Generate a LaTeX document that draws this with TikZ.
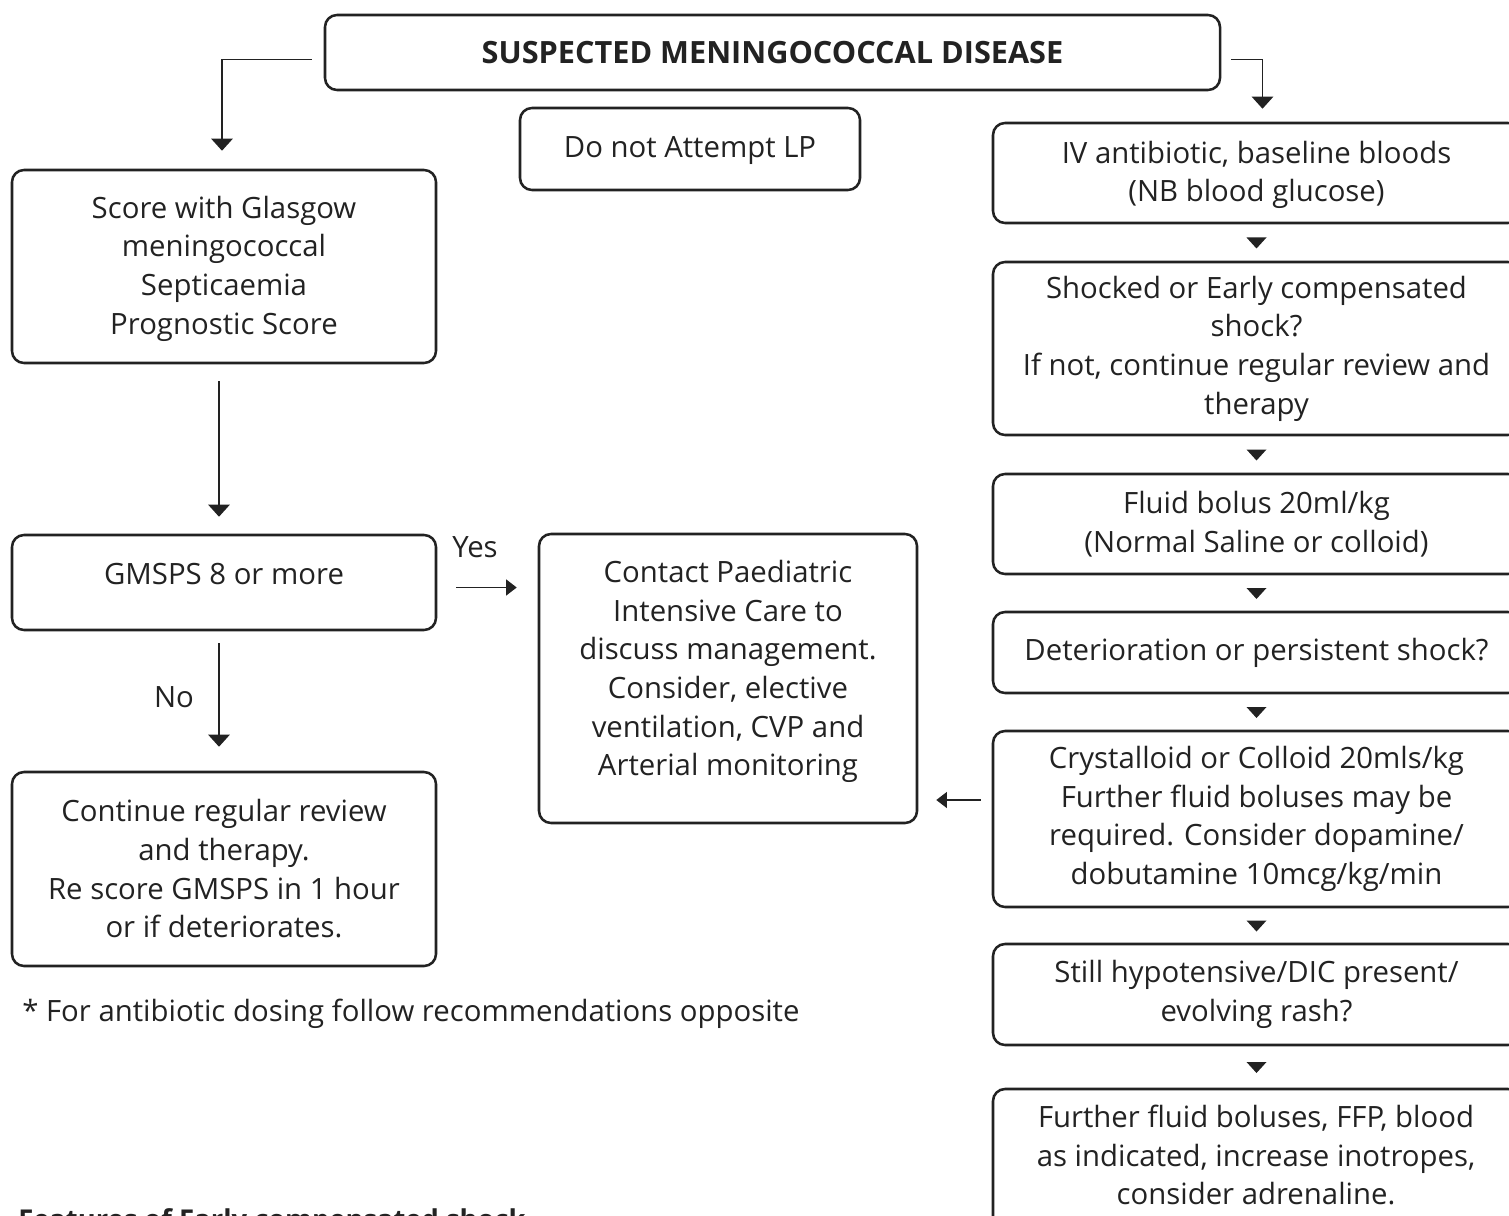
\documentclass[tikz,border=0pt]{standalone}
\usepackage{fontspec}
\setmainfont{Open Sans}
\usetikzlibrary{fit,arrows.meta,calc}
\definecolor{ink}{HTML}{222222}
\begin{document}
\begin{tikzpicture}[x=0.75pt,y=-0.75pt,
  txt/.style={font=\fontsize{22}{29}\selectfont, text=ink, align=center, inner sep=0pt},
  box/.style={draw=ink, line width=1.9pt, rounded corners=9pt, inner sep=0pt},
  varr/.style={draw=ink, line width=1.1pt, -{Triangle[width=16pt,length=9pt]}},
  harr/.style={draw=ink, line width=1.1pt, -{Triangle[width=12pt,length=8pt]}},
  tri/.style={fill=ink}
]
\useasboundingbox (0,0) rectangle (1509,1216);
\clip (0,0) rectangle (1509,1216);

% frames
\node[box, fit={(325,15) (1220,90)}] (title) {};
\node[box, fit={(520,108) (860,190)}] (lp) {};
\node[box, fit={(12,170) (436,363)}] (b1) {};
\node[box, fit={(12,535) (436,630)}] (gm) {};
\node[box, fit={(12,772) (436,966)}] (cont) {};
\node[box, fit={(539,534) (917,823)}] (pic) {};
\node[box, fit={(993,123) (1520,223)}] (A) {};
\node[box, fit={(993,262) (1520,435)}] (B) {};
\node[box, fit={(993,474) (1520,574)}] (C) {};
\node[box, fit={(993,612) (1520,693)}] (D) {};
\node[box, fit={(993,731) (1520,907)}] (E) {};
\node[box, fit={(993,944) (1520,1045)}] (F) {};
\node[box, fit={(993,1089) (1520,1240)}] (G) {};

% texts
\node[txt, font=\fontsize{23}{29}\selectfont\bfseries] (titleT) at (title.center) {SUSPECTED MENINGOCOCCAL DISEASE};
\node[txt] (lpT) at ($(lp.center)+(0,2)$) {Do not Attempt LP};
\node[txt] (b1T) at ($(b1.center)+(0,2)$) {Score with Glasgow\\meningococcal\\Septicaemia\\Prognostic Score};
\node[txt] (gmT) at ($(gm.center)+(0,-8)$) {GMSPS 8 or more};
\node[txt] (contT) at (cont.center) {Continue regular review\\and therapy.\\Re score GMSPS in 1 hour\\or if deteriorates.};
\node[txt] (picT) at ($(pic.center)+(0,-7)$) {Contact Paediatric\\Intensive Care to\\discuss management.\\Consider, elective\\ventilation, CVP and\\Arterial monitoring};
\node[txt] (AT) at ($(A.center)+(0,2)$) {IV antibiotic, baseline bloods\\(NB blood glucose)};
\node[txt] (BT) at (B.center) {Shocked or Early compensated\\shock?\\If not, continue regular review and\\therapy};
\node[txt] (CT) at (C.center) {Fluid bolus 20ml/kg\\(Normal Saline or colloid)};
\node[txt] (DT) at (D.center) {Deterioration or persistent shock?};
\node[txt] (ET) at (E.center) {Crystalloid or Colloid 20mls/kg\\Further fluid boluses may be\\required. Consider dopamine/\\dobutamine 10mcg/kg/min};
\node[txt] (FT) at (F.center) {Still hypotensive/DIC present/\\evolving rash?};
\node[txt] (GT) at (1256,1155) {Further fluid boluses, FFP, blood\\as indicated, increase inotropes,\\consider adrenaline.};

% connectors
\draw[varr] ($(title.west)+(-12,7)$) -| ($(b1.north)+(-2,-18)$);
\draw[varr] ($(title.east)+(10,7)$) -| ($(A.north)+(6,-13)$);
\draw[varr] ($(b1.south)+(-5,17)$) -- ($(gm.north)+(-5,-17)$);
\draw[varr] ($(gm.south)+(-5,12)$) -- ($(cont.north)+(-5,-24)$);
\draw[harr] ($(gm.east)+(19,5)$) -- ($(pic.west |- gm.east)+(-21,5)$);
\draw[harr] ($(E.west)+(-11,-19)$) -- ($(pic.east |- E.west)+(18,-19)$);

\node[txt] (yes) at (475,547) {Yes};
\node[txt] (no) at (174,697) {No};

% arrowheads between right-hand boxes
\foreach \u/\l in {A/B,B/C,C/D,D/E,E/F,F/G}{
  \fill[tri] ($(\u.south)!0.5!(\l.north)+(-10,-5)$) -- ++(20,0) -- ++(-10,11) -- cycle;
}

% notes
\node[txt, anchor=west] (note) at (22,1014) {* For antibiotic dosing follow recommendations opposite};
\node[txt, anchor=base west, font=\fontsize{20.5}{29}\selectfont\bfseries] (feat) at (18,1229) {Features of Early compensated shock};
\end{tikzpicture}
\end{document}
